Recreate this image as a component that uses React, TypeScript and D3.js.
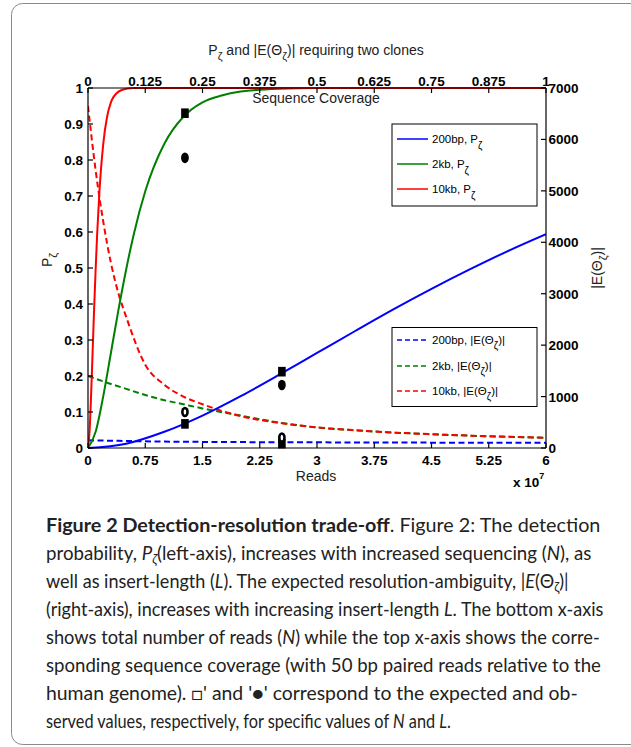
import React, { useLayoutEffect, useRef, useState } from 'react';
import * as d3 from 'd3';

// ---------- data (reads in units of 10^7) ----------
const bottomTicks = [0, 0.75, 1.5, 2.25, 3, 3.75, 4.5, 5.25, 6];
const bottomTickLabels = ['0', '0.75', '1.5', '2.25', '3', '3.75', '4.5', '5.25', '6'];
const topTicks = [0, 0.125, 0.25, 0.375, 0.5, 0.625, 0.75, 0.875, 1];
const topTickLabels = ['0', '0.125', '0.25', '0.375', '0.5', '0.625', '0.75', '0.875', '1'];
const leftTicks = [0, 0.1, 0.2, 0.3, 0.4, 0.5, 0.6, 0.7, 0.8, 0.9, 1];
const leftTickLabels = ['0', '0.1', '0.2', '0.3', '0.4', '0.5', '0.6', '0.7', '0.8', '0.9', '1'];
const rightTicks = [0, 1000, 2000, 3000, 4000, 5000, 6000, 7000];
const rightTickLabels = ['0', '1000', '2000', '3000', '4000', '5000', '6000', '7000'];

// detection probability P (left axis)
const bluePN = [0, 0.5, 1, 1.5, 2, 2.5, 3, 3.5, 4, 4.5, 5, 5.5, 6];
const blueP = [0, 0.012, 0.045, 0.09, 0.144, 0.203, 0.264, 0.325, 0.385, 0.442, 0.496, 0.547, 0.594];
const greenPN = [0, 0.1, 0.2, 0.3, 0.4, 0.5, 0.6, 0.75, 1.0, 1.25, 1.5, 1.75, 2.0, 2.5, 3.0, 4, 5, 6];
const greenP = [0, 0.045, 0.144, 0.264, 0.385, 0.496, 0.594, 0.713, 0.845, 0.92, 0.96, 0.979, 0.99, 0.998, 1, 1, 1, 1];
const redPN = [0, 0.02, 0.04, 0.06, 0.08, 0.1, 0.12, 0.15, 0.2, 0.25, 0.3, 0.4, 0.5, 0.6, 1, 2, 3, 4, 5, 6];
const redP = [0, 0.045, 0.144, 0.264, 0.385, 0.496, 0.594, 0.713, 0.845, 0.92, 0.96, 0.99, 0.998, 1, 1, 1, 1, 1, 1, 1];

// expected resolution ambiguity |E| (right axis)
const blueEN = [0, 1, 2, 3, 4, 5, 6];
const blueE = [150, 125, 115, 110, 106, 103, 100];
const greenEN = [0, 0.25, 0.5, 0.75, 1.0, 1.25, 1.5, 2.0, 2.5, 3.0, 3.5, 4.0, 4.5, 5.0, 5.5, 6.0];
const greenE = [1400, 1270, 1150, 1030, 930, 850, 770, 630, 495, 400, 345, 300, 268, 240, 218, 200];
const redEN = [0, 0.1, 0.2, 0.3, 0.4, 0.5, 0.75, 1.0, 1.25, 1.5, 2.0, 2.5, 3.0, 3.5, 4.0, 4.5, 5.0, 5.5, 6.0];
const redE = [6650, 5400, 4400, 3600, 3000, 2550, 1620, 1230, 1000, 850, 620, 490, 400, 345, 300, 268, 240, 218, 200];

// markers: expected (squares) and observed (circles)
const expectedN = [1.27, 1.27, 2.54, 2.54];
const expectedAxis = ['left', 'left', 'left', 'right'];
const expectedValue = [0.93, 0.067, 0.212, 85];
const observedN = [1.27, 1.27, 2.54, 2.54];
const observedAxis = ['left', 'left', 'left', 'right'];
const observedValue = [0.806, 0.1, 0.175, 205];
const observedHollow = [false, true, false, true];

const legendP = ['200bp, P', '2kb, P', '10kb, P'];
const legendE = ['200bp, |E(Θ', '2kb, |E(Θ', '10kb, |E(Θ'];
const colors = ['#0000ff', '#008000', '#ff0000'];

const W = 631;
const H = 747;
const L = 88, R = 546, T = 88, B = 448;
const FONT = '"Liberation Sans", Arial, sans-serif';
const CAP = 'Lato, "Open Sans", sans-serif';

const x = d3.scaleLinear().domain([0, 6]).range([L, R]);
const xTop = d3.scaleLinear().domain([0, 1]).range([L, R]);
const yL = d3.scaleLinear().domain([0, 1]).range([B, T]);
const yR = d3.scaleLinear().domain([0, 7000]).range([B, T]);

function path(xs: number[], ys: number[], ys2: d3.ScaleLinear<number, number>) {
  const pts: [number, number][] = xs.map((v, i) => [v, ys[i]]);
  return d3.line<[number, number]>().x(d => x(d[0])).y(d => ys2(d[1])).curve(d3.curveMonotoneX)(pts) || '';
}

const DASH = '6,3.5';
const CAP_X = 46;
const CAP_FS = 18.5;
const SUB = 13;
const capEnds = [601, 592, 569, 604, 600, 601, 578, 451];

export default function App() {
  const tick = 5;
  const capRefs = useRef<(SVGTextElement | null)[]>([]);
  const [scales, setScales] = useState<number[] | null>(null);

  useLayoutEffect(() => {
    const s = capEnds.map((end, i) => {
      const el = capRefs.current[i];
      const w = el ? el.getComputedTextLength() : 0;
      return w > 0 ? (end - CAP_X) / w : 1;
    });
    setScales(s);
  }, []);

  const pSeries = [
    { xs: bluePN, ys: blueP, c: colors[0] },
    { xs: greenPN, ys: greenP, c: colors[1] },
    { xs: redPN, ys: redP, c: colors[2] },
  ];
  const eSeries = [
    { xs: blueEN, ys: blueE, c: colors[0] },
    { xs: greenEN, ys: greenE, c: colors[1] },
    { xs: redEN, ys: redE, c: colors[2] },
  ];
  const legendPY = [139, 164, 189];
  const legendEY = [340, 366, 391];

  const capLines: React.ReactNode[] = [
    (<><tspan fontWeight="bold">Figure 2 Detection-resolution trade-off</tspan>. Figure 2: The detection</>),
    (<>probability, <tspan fontStyle="italic">P</tspan><tspan fontStyle="italic" fontSize={SUB} dy={4}>ζ</tspan><tspan dy={-4}>(left-axis), increases with increased sequencing (</tspan><tspan fontStyle="italic">N</tspan>), as</>),
    (<>well as insert-length (<tspan fontStyle="italic">L</tspan>). The expected resolution-ambiguity, |<tspan fontStyle="italic">E</tspan>(Θ<tspan fontSize={SUB} dy={4}>ζ</tspan><tspan dy={-4}>)|</tspan></>),
    (<>(right-axis), increases with increasing insert-length <tspan fontStyle="italic">L</tspan>. The bottom x-axis</>),
    (<>shows total number of reads (<tspan fontStyle="italic">N</tspan>) while the top x-axis shows the corre-</>),
    (<>sponding sequence coverage (with 50 bp paired reads relative to the</>),
    (<>human genome). □' and '●' correspond to the expected and ob-</>),
    (<>served values, respectively, for specific values of <tspan fontStyle="italic">N</tspan> and <tspan fontStyle="italic">L</tspan>.</>),
  ];

  return (
    <svg width={W} height={H} style={{ position: 'absolute', left: 0, top: 0, background: '#fff' }}>
      <rect x={0} y={0} width={W} height={H} fill="#fff" />
      <rect x={11.5} y={3.5} width={660} height={741} rx={11} fill="none" stroke="#8a8a8a" strokeWidth={1} />
      <defs>
        <clipPath id="plotclip">
          <rect x={L} y={T - 2} width={R - L} height={B - T + 4} />
        </clipPath>
      </defs>

      {/* title */}
      <text x={316} y={55} textAnchor="middle" fontFamily={FONT} fontSize={14} fill="#222">
        P<tspan fontSize={11} dy={5}>ζ</tspan><tspan dy={-5}> and |E(Θ</tspan><tspan fontSize={11} dy={5}>ζ</tspan><tspan dy={-5}>)| requiring two clones</tspan>
      </text>

      {/* curves */}
      <g clipPath="url(#plotclip)" fill="none" strokeWidth={2}>
        {eSeries.map((s, i) => (
          <path key={'e' + i} d={path(s.xs, s.ys, yR)} stroke={s.c} strokeDasharray={DASH} />
        ))}
        {pSeries.map((s, i) => (
          <path key={'p' + i} d={path(s.xs, s.ys, yL)} stroke={s.c} />
        ))}
      </g>

      {/* markers */}
      <g>
        {expectedN.map((n, i) => {
          const cy = expectedAxis[i] === 'left' ? yL(expectedValue[i]) : yR(expectedValue[i]);
          return <rect key={'sq' + i} x={x(n) - 3.8} y={cy - 4.8} width={7.6} height={9.6} fill="#000" />;
        })}
        {observedN.map((n, i) => {
          const cy = observedAxis[i] === 'left' ? yL(observedValue[i]) : yR(observedValue[i]);
          return (
            <g key={'ci' + i}>
              <ellipse cx={x(n)} cy={cy} rx={3.9} ry={5.3} fill="#000" />
              {observedHollow[i] && <ellipse cx={x(n)} cy={cy} rx={1.3} ry={2.8} fill="#fff" />}
            </g>
          );
        })}
      </g>

      {/* axes box */}
      <g stroke="#000" strokeWidth={1.2} fill="none">
        <line x1={L} y1={T} x2={R} y2={T} />
        <line x1={L} y1={B} x2={R} y2={B} />
        <line x1={L} y1={T} x2={L} y2={B} />
        <line x1={R} y1={T} x2={R} y2={B} />
        {bottomTicks.map((t, i) => <line key={'bt' + i} x1={x(t)} x2={x(t)} y1={B} y2={B - tick} />)}
        {topTicks.map((t, i) => <line key={'tt' + i} x1={xTop(t)} x2={xTop(t)} y1={T} y2={T + tick} />)}
        {leftTicks.map((t, i) => <line key={'lt' + i} x1={L} x2={L + tick} y1={yL(t)} y2={yL(t)} />)}
        {rightTicks.map((t, i) => <line key={'rt' + i} x1={R} x2={R - tick} y1={yR(t)} y2={yR(t)} />)}
      </g>

      {/* tick labels */}
      <g fontFamily={FONT} fontSize={13.5} fontWeight="bold" fill="#000">
        {bottomTicks.map((t, i) => (
          <text key={'bl' + i} x={x(t)} y={465} textAnchor="middle">{bottomTickLabels[i]}</text>
        ))}
        {topTicks.map((t, i) => (
          <text key={'tl' + i} x={xTop(t)} y={85.5} textAnchor="middle">{topTickLabels[i]}</text>
        ))}
        {leftTicks.map((t, i) => (
          <text key={'ll' + i} x={83} y={yL(t) + 5} textAnchor="end">{leftTickLabels[i]}</text>
        ))}
        {rightTicks.map((t, i) => (
          <text key={'rl' + i} x={548.5} y={yR(t) + 5} textAnchor="start">{rightTickLabels[i]}</text>
        ))}
        <text x={513} y={487}>x 10<tspan fontSize={9} dy={-8}>7</tspan></text>
      </g>

      {/* axis labels */}
      <g fontFamily={FONT} fontSize={14} fill="#222">
        <text x={316} y={103} textAnchor="middle">Sequence Coverage</text>
        <text x={316} y={481} textAnchor="middle">Reads</text>
        <text transform="translate(52,260) rotate(-90)" textAnchor="middle">
          P<tspan fontSize={11} dy={5}>ζ</tspan>
        </text>
        <text transform="translate(602,268) rotate(-90)" textAnchor="middle">
          |E(Θ<tspan fontSize={11} dy={5}>ζ</tspan><tspan dy={-5}>)|</tspan>
        </text>
      </g>

      {/* legends */}
      <g fontFamily={FONT} fontSize={11.5} fill="#000">
        <rect x={392} y={124} width={145} height={82} fill="#fff" stroke="#000" strokeWidth={1} />
        {legendP.map((t, i) => (
          <g key={'lp' + i}>
            <line x1={397} x2={428} y1={legendPY[i]} y2={legendPY[i]} stroke={colors[i]} strokeWidth={1.5} />
            <text x={432} y={legendPY[i] + 4}>
              {t}<tspan fontSize={10} dy={6}>ζ</tspan>
            </text>
          </g>
        ))}
        <rect x={392} y={327.5} width={145} height={79} fill="#fff" stroke="#000" strokeWidth={1} />
        {legendE.map((t, i) => (
          <g key={'le' + i}>
            <line x1={397} x2={428} y1={legendEY[i]} y2={legendEY[i]} stroke={colors[i]} strokeWidth={1.5} strokeDasharray="5,3" />
            <text x={432} y={legendEY[i] + 4}>
              {t}<tspan fontSize={10} dy={5}>ζ</tspan><tspan dy={-5}>)|</tspan>
            </text>
          </g>
        ))}
      </g>

      {/* caption */}
      <g fontFamily={CAP} fontSize={CAP_FS} fill="#222">
        {capLines.map((ln, i) => {
          const y = 532 + i * 28;
          const sx = scales ? scales[i] : 1;
          return (
            <text
              key={'cap' + i}
              ref={el => { capRefs.current[i] = el; }}
              x={0}
              y={0}
              transform={`translate(${CAP_X},${y}) scale(${sx},1)`}
            >
              {ln}
            </text>
          );
        })}
      </g>
    </svg>
  );
}
